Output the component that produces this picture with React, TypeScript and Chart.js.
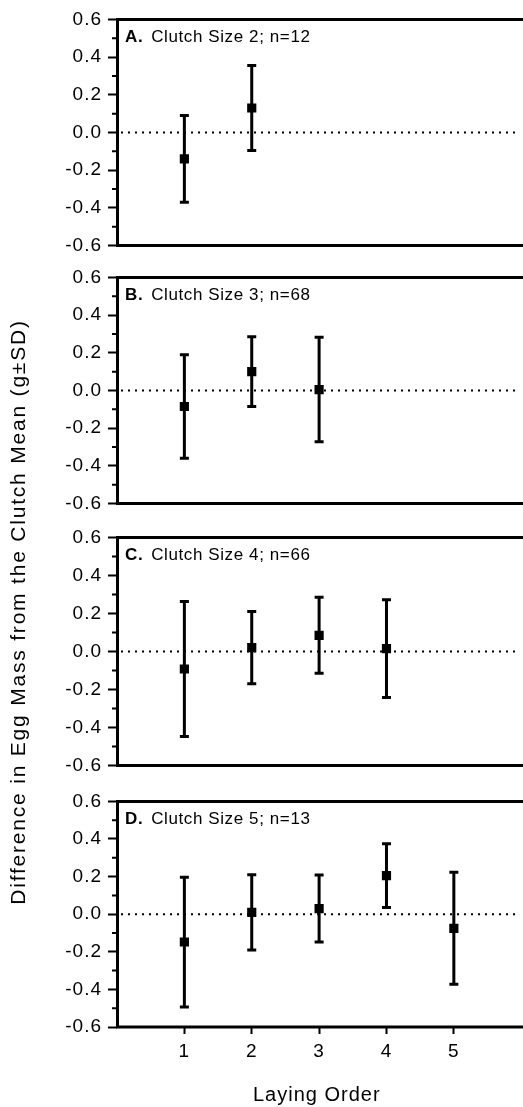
import React, { useEffect, useRef } from 'react';
import { Chart, registerables } from 'chart.js';

Chart.register(...registerables);

// ---------- data ----------
const layingOrder = [1, 2, 3, 4, 5];
const xTickLabels = ['1', '2', '3', '4', '5'];
const panelLetters = ['A.', 'B.', 'C.', 'D.'];
const panelTitles = ['Clutch Size 2; n=12', 'Clutch Size 3; n=68', 'Clutch Size 4; n=66', 'Clutch Size 5; n=13'];

const meansA = [-0.14, 0.13];
const sdA = [0.23, 0.225];
const meansB = [-0.085, 0.1, 0.005];
const sdB = [0.275, 0.185, 0.277];
const meansC = [-0.092, 0.02, 0.085, 0.015];
const sdC = [0.355, 0.19, 0.2, 0.257];
const meansD = [-0.148, 0.01, 0.03, 0.205, -0.075];
const sdD = [0.345, 0.2, 0.178, 0.17, 0.298];

const yTicks = [-0.6, -0.4, -0.2, 0, 0.2, 0.4, 0.6];
const yTickLabels = ['-0.6', '-0.4', '-0.2', '0.0', '0.2', '0.4', '0.6'];
const yMinorTicks = [-0.5, -0.3, -0.1, 0.1, 0.3, 0.5];
const xAxisTitle = 'Laying Order';
const yAxisTitle = 'Difference in Egg Mass from the Clutch Mean (g±SD)';

// ---------- layout ----------
const W = 523;
const H = 1107;
const LEFT = 117;
const PAD = 14;
const X_MIN = 0;
const X_MAX = 5.93;
const Y_MIN = -0.6;
const Y_MAX = 0.6;
const FONT = '"Liberation Sans", Arial, Helvetica, sans-serif';
const panelTops = [16, 274, 534, 798];
const panelBottoms = [249, 507, 769, 1027];

function makeDecor(means: number[], sds: number[], letter: string, title: string) {
  return {
    id: 'panelDecor',
    beforeUpdate(chart: any) {
      chart.ctx.letterSpacing = '1px';
    },
    beforeDraw(chart: any) {
      chart.ctx.letterSpacing = '1px';
    },
    beforeDatasetsDraw(chart: any) {
      const { ctx, chartArea: a, scales } = chart;
      const x = scales.x;
      const y = scales.y;
      ctx.save();
      // dotted zero line
      ctx.strokeStyle = '#000';
      ctx.lineWidth = 2;
      ctx.setLineDash([2, 5]);
      const y0 = y.getPixelForValue(0);
      ctx.beginPath();
      ctx.moveTo(a.left + 4, y0);
      ctx.lineTo(a.right, y0);
      ctx.stroke();
      ctx.setLineDash([]);
      // error bars (mean ± SD)
      ctx.lineWidth = 3;
      means.forEach((m, i) => {
        const px = x.getPixelForValue(layingOrder[i]);
        const hi = y.getPixelForValue(m + sds[i]);
        const lo = y.getPixelForValue(m - sds[i]);
        ctx.beginPath();
        ctx.moveTo(px, hi);
        ctx.lineTo(px, lo);
        ctx.moveTo(px - 4.5, hi);
        ctx.lineTo(px + 4.5, hi);
        ctx.moveTo(px - 4.5, lo);
        ctx.lineTo(px + 4.5, lo);
        ctx.stroke();
      });
      ctx.restore();
    },
    afterDraw(chart: any) {
      const { ctx, chartArea: a, scales, width } = chart;
      const y = scales.y;
      ctx.save();
      ctx.strokeStyle = '#000';
      ctx.lineWidth = 3;
      ctx.beginPath();
      ctx.moveTo(a.left + 0.5, a.top - 1.5);
      ctx.lineTo(a.left + 0.5, a.bottom + 1.5);
      ctx.moveTo(a.left, a.top);
      ctx.lineTo(width, a.top);
      ctx.moveTo(a.left, a.bottom);
      ctx.lineTo(width, a.bottom);
      ctx.stroke();
      // minor ticks
      ctx.lineWidth = 2;
      ctx.beginPath();
      yMinorTicks.forEach((v) => {
        const py = y.getPixelForValue(v);
        ctx.moveTo(a.left - 5, py);
        ctx.lineTo(a.left, py);
      });
      ctx.stroke();
      // panel label
      ctx.fillStyle = '#000';
      ctx.textBaseline = 'alphabetic';
      ctx.textAlign = 'left';
      ctx.letterSpacing = '0.6px';
      ctx.font = `bold 17px ${FONT}`;
      const lx = a.left + 8;
      const ly = a.top + 23;
      ctx.fillText(letter, lx, ly);
      const lw = ctx.measureText(letter).width;
      ctx.font = `17px ${FONT}`;
      ctx.fillText(title, lx + lw + 8, ly);
      ctx.restore();
    },
  };
}

function Panel({ index, means, sds }: { index: number; means: number[]; sds: number[] }) {
  const ref = useRef<HTMLCanvasElement>(null);
  const isLast = index === 3;
  const top = panelTops[index] - PAD;
  const height = isLast ? H - top : panelBottoms[index] - panelTops[index] + 2 * PAD;

  useEffect(() => {
    const canvas = ref.current!;
    const chart = new Chart(canvas, {
      type: 'scatter',
      data: {
        datasets: [
          {
            data: means.map((m, i) => ({ x: layingOrder[i], y: m })),
            pointStyle: 'rect',
            pointRadius: 6.5,
            pointHoverRadius: 6.5,
            backgroundColor: '#000',
            borderColor: '#000',
            borderWidth: 0,
            showLine: false,
          },
        ],
      },
      options: {
        animation: false,
        responsive: false,
        devicePixelRatio: 1,
        events: [],
        layout: { padding: { left: 0, right: 0, top: PAD, bottom: isLast ? 0 : PAD } },
        plugins: { legend: { display: false }, tooltip: { enabled: false } },
        scales: {
          x: {
            type: 'linear',
            min: X_MIN,
            max: X_MAX,
            display: isLast,
            afterBuildTicks: (s: any) => {
              s.ticks = layingOrder.map((v) => ({ value: v }));
            },
            afterFit: (s: any) => {
              s.height = isLast ? 80 : 0;
            },
            ticks: {
              callback: (v: any) => xTickLabels[layingOrder.indexOf(v)] ?? '',
              font: { family: FONT, size: 19 },
              color: '#000',
              padding: 6,
              maxRotation: 0,
              autoSkip: false,
            },
            grid: { drawOnChartArea: false, drawTicks: true, tickLength: 7, tickWidth: 2, tickColor: '#000' },
            border: { display: false },
            title: {
              display: true,
              text: xAxisTitle,
              font: { family: FONT, size: 20 },
              color: '#000',
              padding: { top: 0, bottom: 0 },
            },
          },
          y: {
            type: 'linear',
            min: Y_MIN,
            max: Y_MAX,
            afterBuildTicks: (s: any) => {
              s.ticks = yTicks.map((v) => ({ value: v }));
            },
            afterFit: (s: any) => {
              s.width = LEFT;
            },
            ticks: {
              callback: (v: any) => yTickLabels[yTicks.indexOf(v)] ?? '',
              font: { family: FONT, size: 19 },
              color: '#000',
              padding: 6,
              autoSkip: false,
            },
            grid: { drawOnChartArea: false, drawTicks: true, tickLength: 9, tickWidth: 2, tickColor: '#000' },
            border: { display: false },
          },
        },
      } as any,
      plugins: [makeDecor(means, sds, panelLetters[index], panelTitles[index])],
    });
    return () => chart.destroy();
  }, []);

  return (
    <canvas
      ref={ref}
      width={W}
      height={height}
      style={{ position: 'absolute', left: 0, top, width: W, height, display: 'block' }}
    />
  );
}

export default function App() {
  return (
    <div style={{ position: 'absolute', left: 0, top: 0, width: W, height: H, background: '#fff', overflow: 'hidden' }}>
      <Panel index={0} means={meansA} sds={sdA} />
      <Panel index={1} means={meansB} sds={sdB} />
      <Panel index={2} means={meansC} sds={sdC} />
      <Panel index={3} means={meansD} sds={sdD} />
      <div
        style={{
          position: 'absolute',
          left: 18 - 350,
          top: 612 - 12,
          width: 700,
          height: 24,
          lineHeight: '24px',
          textAlign: 'center',
          transform: 'rotate(-90deg)',
          transformOrigin: '50% 50%',
          fontFamily: FONT,
          fontSize: 21,
          letterSpacing: '1.8px',
          color: '#000',
          whiteSpace: 'nowrap',
        }}
      >
        {yAxisTitle}
      </div>
    </div>
  );
}
